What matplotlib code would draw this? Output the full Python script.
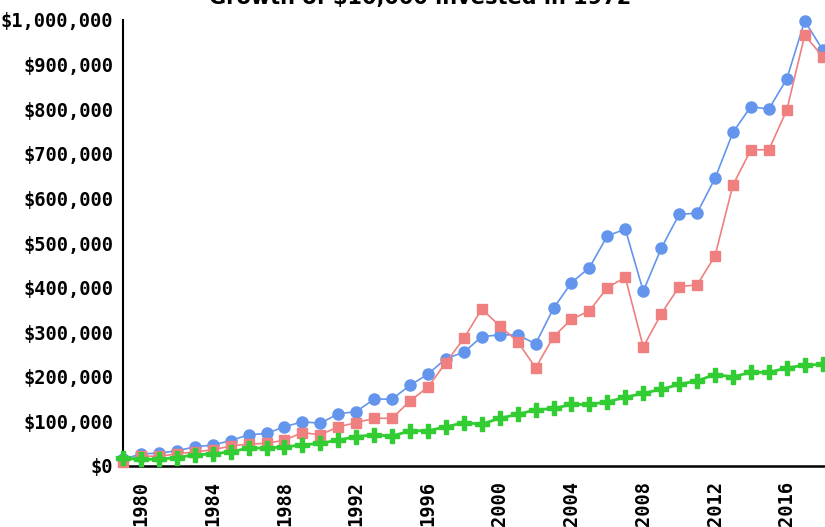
import matplotlib
matplotlib.use("Agg")
import matplotlib.pyplot as plt
from matplotlib.ticker import FuncFormatter

years = list(range(1979, 2019))
blue = [15, 27, 29, 34, 43, 47, 57, 70, 73, 88, 99, 96, 117, 122, 150, 150,
        181, 206, 241, 255, 290, 294, 294, 274, 354, 411, 445, 516, 531, 392,
        488, 564, 567, 645, 748, 806, 800, 868, 998, 933]
pink = [10, 22, 22, 27, 32, 36, 45, 49, 51, 58, 75, 70, 88, 97, 107, 107,
        146, 177, 232, 286, 352, 314, 279, 220, 290, 329, 348, 400, 423, 267,
        341, 402, 406, 471, 630, 709, 709, 798, 966, 918]
green = [17, 15, 15, 19, 25, 27, 32, 40, 40, 43, 47, 51, 58, 66, 70, 67,
         79, 79, 88, 97, 94, 107, 116, 126, 129, 138, 138, 144, 154, 163,
         172, 183, 191, 205, 200, 210, 210, 220, 226, 228]
blue = [v * 1000 for v in blue]
pink = [v * 1000 for v in pink]
green = [v * 1000 for v in green]
xticks = list(range(1980, 2019, 4))
yticks = list(range(0, 1000001, 100000))
title = "Growth of $10,000 invested in 1972"

W, H = 825, 527
fig = plt.figure(figsize=(W / 100, H / 100), dpi=100)
ax = fig.add_axes([123 / W, (H - 466) / H, (W - 123) / W, 446 / H])

ax.plot(years, blue, color="#6495ED", lw=1.2, marker="o", ms=8, clip_on=False, zorder=3)
ax.plot(years, pink, color="#F08080", lw=1.2, marker="s", ms=7.5, clip_on=False, zorder=4)
ax.plot(years, green, color="#32CD32", lw=2, marker="P", ms=10.5, clip_on=False, zorder=5)

ax.set_xlim(1979, 1979 + (W - 123) / 17.94)
ax.set_ylim(0, 1000000)
ax.set_xticks(xticks)
ax.set_yticks(yticks)
ax.yaxis.set_major_formatter(FuncFormatter(lambda v, p: "${:,.0f}".format(v)))
for lab in ax.get_xticklabels():
    lab.set_rotation(90)
ax.tick_params(axis="both", length=0, labelsize=13.5)
ax.tick_params(axis="y", pad=7)
ax.tick_params(axis="x", pad=11)
for lab in ax.get_xticklabels() + ax.get_yticklabels():
    lab.set_fontfamily("DejaVu Sans Mono")
    lab.set_fontweight("bold")
for s in ("top", "right"):
    ax.spines[s].set_visible(False)
ax.spines["left"].set_linewidth(1.5)
ax.spines["bottom"].set_linewidth(1.8)

fig.text(420 / W, 1 - 4 / H, title, ha="center", va="baseline",
         fontsize=15, fontweight="bold", family="DejaVu Sans")

fig.savefig("out.png", dpi=100)
